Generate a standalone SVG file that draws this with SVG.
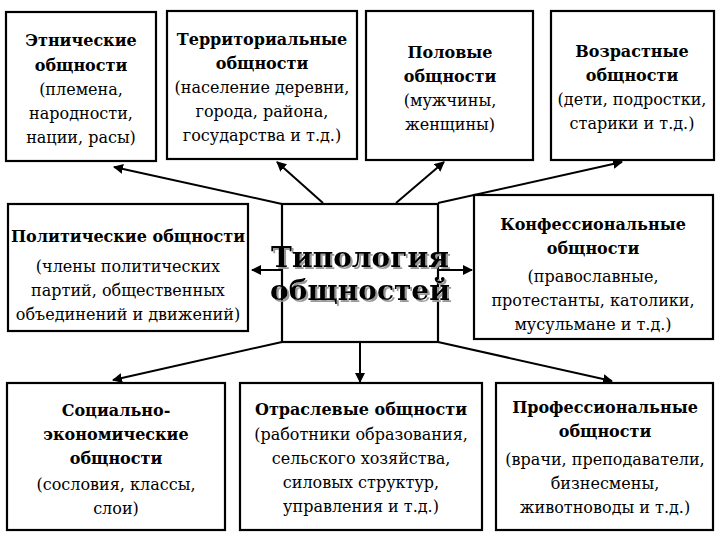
<svg xmlns="http://www.w3.org/2000/svg" width="720" height="540" viewBox="0 0 720 540">
<style>
rect{fill:#fff;stroke:#000;stroke-width:2.2}
text{font-family:"DejaVu Serif","Liberation Serif","Times New Roman",serif;font-size:16px;text-anchor:middle;fill:#000}
.b{font-weight:bold}
.c line{stroke:#000;stroke-width:2;marker-end:url(#a)}
.t{font-size:28px;font-weight:bold;filter:url(#s)}
</style>
<defs><marker id="a" viewBox="0 0 10 10" refX="9" refY="5" markerWidth="5" markerHeight="5" orient="auto"><path d="M0,0L10,5L0,10z"/></marker>
<filter id="s" x="-10%" y="-30%" width="120%" height="160%"><feDropShadow dx="2" dy="2" stdDeviation="0.6" flood-color="#999"/></filter></defs>
<rect width="720" height="540" style="fill:#fff;stroke:none"/>
<g class="c">
<line x1="282" y1="204" x2="114" y2="167"/>
<line x1="323" y1="203" x2="277" y2="162"/>
<line x1="396" y1="203" x2="444" y2="162"/>
<line x1="438" y1="203" x2="622" y2="162"/>
<line x1="282" y1="270" x2="252" y2="270"/>
<line x1="438" y1="270" x2="472" y2="270"/>
<line x1="282" y1="342" x2="113" y2="380"/>
<line x1="360" y1="342" x2="360" y2="382"/>
<line x1="438" y1="342" x2="612" y2="381"/>
</g>
<g id="n1"><rect x="6" y="12" width="150" height="149"/>
<text x="81" y="46" class="b">Этнические</text><text x="81" y="71" class="b">общности</text><text x="81" y="95">(племена,</text><text x="81" y="119">народности,</text><text x="81" y="143">нации, расы)</text></g>
<g id="n2"><rect x="167" y="11" width="190" height="148"/>
<text x="262" y="45" class="b">Территориальные</text><text x="262" y="69" class="b">общности</text><text x="262" y="93">(население деревни,</text><text x="262" y="117">города, района,</text><text x="262" y="141">государства и т.д.)</text></g>
<g id="n3"><rect x="366" y="11" width="167" height="149"/>
<text x="450" y="58" class="b">Половые</text><text x="450" y="82" class="b">общности</text><text x="450" y="106">(мужчины,</text><text x="450" y="130">женщины)</text></g>
<g id="n4"><rect x="551" y="11" width="163" height="149"/>
<text x="632" y="57" class="b">Возрастные</text><text x="632" y="81" class="b">общности</text><text x="632" y="105">(дети, подростки,</text><text x="632" y="129">старики и т.д.)</text></g>
<g id="n5"><rect x="8" y="204" width="240" height="127"/>
<text x="128" y="242" class="b">Политические общности</text><text x="128" y="272">(члены политических</text><text x="128" y="296">партий, общественных</text><text x="128" y="320">объединений и движений)</text></g>
<g id="n6"><rect x="282" y="204" width="156" height="138"/>
<text x="360" y="267" class="t">Типология</text><text x="360" y="300" class="t">общностей</text></g>
<g id="n7"><rect x="474" y="195" width="239" height="144"/>
<text x="593" y="230" class="b">Конфессиональные</text><text x="593" y="254" class="b">общности</text><text x="593" y="282">(православные,</text><text x="593" y="306">протестанты, католики,</text><text x="593" y="330">мусульмане и т.д.)</text></g>
<g id="n8"><rect x="7" y="383" width="218" height="147"/>
<text x="116" y="416" class="b">Социально-</text><text x="116" y="440" class="b">экономические</text><text x="116" y="464" class="b">общности</text><text x="116" y="490">(сословия, классы,</text><text x="116" y="514">слои)</text></g>
<g id="n9"><rect x="240" y="383" width="242" height="147"/>
<text x="361" y="415" class="b">Отраслевые общности</text><text x="361" y="440">(работники образования,</text><text x="361" y="464">сельского хозяйства,</text><text x="361" y="488">силовых структур,</text><text x="361" y="512">управления и т.д.)</text></g>
<g id="n10"><rect x="496" y="383" width="217" height="147"/>
<text x="605" y="413" class="b">Профессиональные</text><text x="605" y="437" class="b">общности</text><text x="605" y="465">(врачи, преподаватели,</text><text x="605" y="489">бизнесмены,</text><text x="605" y="513">животноводы и т.д.)</text></g>
</svg>
